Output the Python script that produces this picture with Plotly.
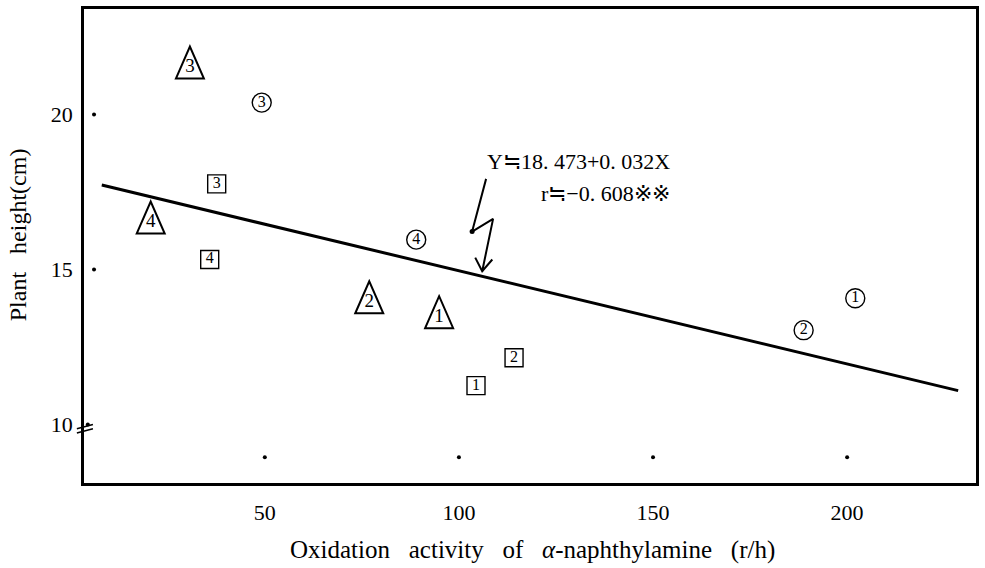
import plotly.graph_objects as go

# ---- data ----
tri_labels = ["1", "2", "3", "4"]
tri_x = [94.9, 76.9, 30.7, 20.6]
tri_y = [13.46, 13.94, 21.51, 16.51]

circ_labels = ["1", "2", "3", "4"]
circ_x = [202.1, 188.8, 49.2, 89.0]
circ_y = [14.07, 13.04, 20.38, 15.96]

sq_labels = ["1", "2", "3", "4"]
sq_x = [104.4, 114.2, 37.6, 35.8]
sq_y = [11.25, 12.15, 17.76, 15.32]

reg_x = [8.0, 228.6]
reg_y = [17.72, 11.09]

arrow_x = [107.0, 103.4, 108.8, 106.0, None, 104.2, 106.0, 108.6]
arrow_y = [17.92, 16.22, 16.63, 14.94, None, 15.38, 14.94, 15.32]

x_ticks = [50, 100, 150, 200]
y_ticks = [10, 15, 20]

eq_line1 = "Y≒18. 473+0. 032X"
eq_line2 = "r≒−0. 608※※"
SP = "&nbsp;&nbsp; "
x_title = SP.join(["Oxidation", "activity", "of", "<i>α</i>-naphthylamine", "(r/h)"])
y_title = SP.join(["Plant", "height(cm)"])

FONT = "Liberation Serif"

fig = go.Figure()

fig.add_trace(go.Scatter(x=reg_x, y=reg_y, mode="lines",
                         line=dict(color="black", width=3), hoverinfo="skip"))

fig.add_trace(go.Scatter(x=arrow_x, y=arrow_y, mode="lines",
                         line=dict(color="black", width=2), hoverinfo="skip"))
fig.add_trace(go.Scatter(x=[arrow_x[1]], y=[arrow_y[1]], mode="markers",
                         marker=dict(color="black", size=5), hoverinfo="skip"))

# tick dots inside the frame
fig.add_trace(go.Scatter(x=[6.0, 6.0, 4.4], y=y_ticks[::-1], mode="markers",
                         marker=dict(color="black", size=4), hoverinfo="skip"))
fig.add_trace(go.Scatter(x=x_ticks, y=[8.94] * len(x_ticks), mode="markers",
                         marker=dict(color="black", size=4), hoverinfo="skip"))

# tall narrow triangles anchored on the data points (pixel-sized outline)
for tx, ty in zip(tri_x, tri_y):
    fig.add_shape(type="path", xref="x", yref="y",
                  xsizemode="pixel", ysizemode="pixel",
                  xanchor=tx, yanchor=ty,
                  path="M -14 -11 L 0 21 L 14 -11 Z",
                  line=dict(color="black", width=2))
fig.add_trace(go.Scatter(x=tri_x, y=tri_y, mode="text", text=tri_labels,
                         textposition="middle center",
                         textfont=dict(family=FONT, size=19, color="black"),
                         cliponaxis=False))

fig.add_trace(go.Scatter(x=circ_x, y=circ_y, mode="markers+text", text=circ_labels,
                         textposition="middle center",
                         textfont=dict(family=FONT, size=16, color="black"),
                         marker=dict(symbol="circle-open", size=19,
                                     color="black", line=dict(width=1.4)),
                         cliponaxis=False))
fig.add_trace(go.Scatter(x=sq_x, y=sq_y, mode="markers+text", text=sq_labels,
                         textposition="middle center",
                         textfont=dict(family=FONT, size=16, color="black"),
                         marker=dict(symbol="square-open", size=18,
                                     color="black", line=dict(width=1.4)),
                         cliponaxis=False))

fig.add_annotation(x=154.8, y=18.49, text=eq_line1, showarrow=False,
                   xanchor="right", yanchor="middle",
                   font=dict(family=FONT, size=22, color="black"))
fig.add_annotation(x=154.8, y=17.44, text=eq_line2, showarrow=False,
                   xanchor="right", yanchor="middle",
                   font=dict(family=FONT, size=22, color="black"))

fig.add_annotation(xref="paper", yref="paper", x=0.503, y=-0.1405,
                   text=x_title, showarrow=False, xanchor="center", yanchor="middle",
                   font=dict(family=FONT, size=25, color="black"))
fig.add_annotation(xref="paper", yref="paper", x=-0.0744, y=0.524,
                   text=y_title, showarrow=False, textangle=-90,
                   xanchor="center", yanchor="middle",
                   font=dict(family=FONT, size=24, color="black"))

# axis break mark
for dy in (0.0, 0.14):
    fig.add_shape(type="line", xref="paper", yref="y",
                  x0=-0.008, x1=0.010, y0=9.72 + dy, y1=9.86 + dy,
                  line=dict(color="black", width=1.5))

fig.update_layout(
    width=985, height=568,
    margin=dict(l=84, r=7, t=6, b=85),
    paper_bgcolor="white", plot_bgcolor="white",
    showlegend=False,
    font=dict(family=FONT, size=22, color="black"),
)
fig.update_xaxes(range=[3.42, 233.2], tickvals=x_ticks, showgrid=False, zeroline=False,
                 showline=True, linecolor="black", linewidth=2.5, mirror=True,
                 ticks="outside", ticklen=8, tickcolor="white",
                 tickfont=dict(family=FONT, size=22))
fig.update_yaxes(range=[8.11, 23.4], tickvals=y_ticks, showgrid=False, zeroline=False,
                 showline=True, linecolor="black", linewidth=2.5, mirror=True,
                 ticks="outside", ticklen=4, tickcolor="white",
                 tickfont=dict(family=FONT, size=22))

fig.write_html("out.html")
